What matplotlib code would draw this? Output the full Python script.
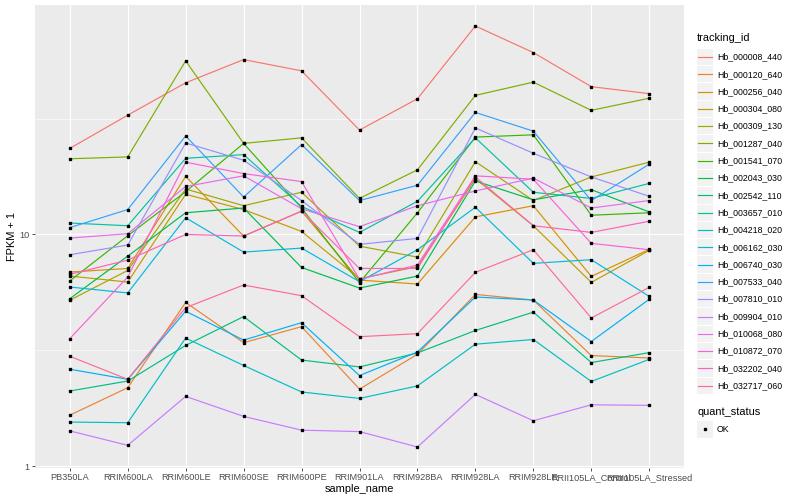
import matplotlib
matplotlib.use("Agg")
import matplotlib.pyplot as plt
from matplotlib.patches import Rectangle
from matplotlib.lines import Line2D

plt.rcParams['font.family'] = ['Liberation Sans', 'DejaVu Sans']

samples = ['PB350LA', 'RRIM600LA', 'RRIM600LE', 'RRIM600SE', 'RRIM600PE', 'RRIM901LA',
           'RRIM928BA', 'RRIM928LA', 'RRIM928LE', 'RRII105LA_Control', 'RRII105LA_Stressed']

tracking_ids = ['Hb_000008_440', 'Hb_000120_640', 'Hb_000256_040', 'Hb_000304_080',
                'Hb_000309_130', 'Hb_001287_040', 'Hb_001541_070', 'Hb_002043_030',
                'Hb_002542_110', 'Hb_003657_010', 'Hb_004218_020', 'Hb_006162_030',
                'Hb_006740_030', 'Hb_007533_040', 'Hb_007810_010', 'Hb_009904_010',
                'Hb_010068_080', 'Hb_010872_070', 'Hb_032202_040', 'Hb_032717_060']

# ggplot default hue palette for 20 groups
colors = ['#F8766D', '#EA8331', '#D89000', '#C09B00', '#A3A500', '#7CAE00', '#39B600',
          '#00BB4E', '#00BF7D', '#00C1A3', '#00BFC4', '#00BAE0', '#00B0F6', '#35A2FF',
          '#9590FF', '#C77CFF', '#E76BF3', '#FA62DB', '#FF62BC', '#FF6C91']

# FPKM + 1, one list per tracking_id (same order as samples)
hb_000008_440 = [23.5, 32.7, 45.1, 56.8, 50.8, 28.2, 38.5, 79.3, 60.9, 43.4, 40.5]
hb_000120_640 = [1.66, 2.18, 5.09, 3.41, 4.00, 2.15, 3.04, 5.51, 5.21, 3.00, 2.93]
hb_000256_040 = [6.88, 7.13, 17.8, 9.84, 12.6, 6.35, 6.11, 11.9, 13.3, 6.59, 8.62]
hb_000304_080 = [6.61, 6.23, 14.9, 12.8, 10.3, 6.44, 7.26, 17.4, 10.9, 6.21, 8.53]
hb_000309_130 = [5.20, 6.99, 15.7, 13.3, 15.2, 8.90, 7.98, 20.6, 14.0, 17.7, 20.5]
hb_001287_040 = [21.2, 21.6, 56.1, 24.7, 26.1, 14.3, 19.0, 39.8, 45.4, 34.3, 38.7]
hb_001541_070 = [6.30, 9.87, 15.3, 24.7, 13.0, 6.19, 12.4, 26.3, 26.9, 12.1, 12.4]
hb_002043_030 = [5.28, 8.06, 12.4, 13.0, 7.20, 5.87, 6.61, 17.0, 14.1, 15.6, 12.5]
hb_002542_110 = [2.11, 2.33, 3.32, 4.42, 2.87, 2.68, 3.08, 3.85, 4.62, 2.80, 3.09]
hb_003657_010 = [11.2, 10.9, 21.3, 22.1, 13.2, 10.2, 13.9, 26.1, 15.2, 14.3, 16.6]
hb_004218_020 = [1.55, 1.54, 3.57, 2.72, 2.09, 1.96, 2.22, 3.36, 3.52, 2.32, 2.89]
hb_006162_030 = [5.93, 5.59, 11.8, 8.39, 8.73, 6.25, 8.59, 13.1, 7.50, 7.78, 5.40]
hb_006740_030 = [2.62, 2.37, 4.66, 3.50, 4.16, 2.46, 3.11, 5.37, 5.21, 3.45, 5.25]
hb_007533_040 = [10.7, 12.8, 26.6, 14.5, 24.4, 14.0, 16.3, 33.6, 27.9, 14.0, 20.1]
hb_007810_010 = [8.17, 9.00, 24.8, 20.9, 14.0, 9.06, 9.61, 28.8, 22.4, 17.7, 14.6]
hb_009904_010 = [1.42, 1.23, 2.00, 1.64, 1.43, 1.41, 1.21, 2.04, 1.57, 1.84, 1.83]
hb_010068_080 = [9.64, 10.07, 16.1, 17.9, 12.9, 10.8, 13.3, 15.4, 17.5, 13.0, 14.0]
hb_010872_070 = [3.55, 6.55, 20.5, 18.3, 16.9, 6.40, 7.38, 17.9, 17.3, 9.15, 8.59]
hb_032202_040 = [6.72, 7.75, 10.0, 9.84, 12.6, 7.13, 7.13, 17.7, 10.9, 10.2, 11.4]
hb_032717_060 = [2.98, 2.37, 4.83, 6.05, 5.44, 3.62, 3.73, 6.86, 8.59, 4.36, 5.91]

values = [hb_000008_440, hb_000120_640, hb_000256_040, hb_000304_080, hb_000309_130,
          hb_001287_040, hb_001541_070, hb_002043_030, hb_002542_110, hb_003657_010,
          hb_004218_020, hb_006162_030, hb_006740_030, hb_007533_040, hb_007810_010,
          hb_009904_010, hb_010068_080, hb_010872_070, hb_032202_040, hb_032717_060]

W, H = 800, 500
fig = plt.figure(figsize=(8, 5), dpi=100)

def fx(px):
    return px / W

def fy(py):
    return 1 - py / H

# panel
left, right, top, bottom = 35, 684, 5, 468
ax = fig.add_axes([fx(left), fy(bottom), fx(right - left), (bottom - top) / H])
ax.set_facecolor('#EBEBEB')
for s in ax.spines.values():
    s.set_visible(False)

x = list(range(len(samples)))
for vals, c in zip(values, colors):
    ax.plot(x, vals, color=c, lw=0.85, zorder=3)
for vals in values:
    ax.plot(x, vals, ls='none', marker='s', ms=1.9, color='black', zorder=4)

ax.set_yscale('log')
ax.set_ylim(0.982, 97.7)
ax.set_xlim(-0.6, len(samples) - 0.4)
ax.set_yticks([1, 10])
ax.set_yticklabels(['1', '10'])
ax.yaxis.set_minor_locator(matplotlib.ticker.FixedLocator([10 ** 0.5, 10 ** 1.5]))
ax.yaxis.set_minor_formatter(matplotlib.ticker.NullFormatter())
ax.set_xticks(x)
ax.set_xticklabels(samples)

ax.grid(True, which='major', color='white', lw=0.8, zorder=1)
ax.grid(True, which='minor', axis='y', color='white', lw=0.4, zorder=1)
ax.set_axisbelow(True)
ax.tick_params(which='major', length=2.2, width=0.6, color='#333333',
               labelsize=6.6, labelcolor='#4D4D4D', pad=1.5)
ax.tick_params(which='minor', length=0)

ax.set_xlabel('sample_name', fontsize=7.9, labelpad=1)
ax.set_ylabel('FPKM + 1', fontsize=7.9, labelpad=2)

# legend: tracking_id
fig.text(fx(697), fy(38), 'tracking_id', fontsize=7.9, va='center', ha='left')
key_w, key_h = 16, 17.3
y0 = 57
for i, (name, c) in enumerate(zip(tracking_ids, colors)):
    yc = y0 + i * key_h
    fig.add_artist(Rectangle((fx(697), fy(yc + key_h / 2 - 0.5)), fx(key_w), (key_h - 1) / H,
                             transform=fig.transFigure, facecolor='#F2F2F2', edgecolor='none'))
    fig.add_artist(Line2D([fx(698), fx(712)], [fy(yc), fy(yc)], transform=fig.transFigure,
                          color=c, lw=0.85))
    fig.text(fx(717), fy(yc), name, fontsize=6.3, va='center', ha='left')

# legend: quant_status
fig.text(fx(697), fy(412), 'quant_status', fontsize=7.9, va='center', ha='left')
fig.add_artist(Rectangle((fx(697), fy(437.5)), fx(key_w), (key_h - 1) / H,
                         transform=fig.transFigure, facecolor='#F2F2F2', edgecolor='none'))
fig.add_artist(Line2D([fx(705)], [fy(429)], transform=fig.transFigure, ls='none',
                      marker='s', ms=1.9, color='black'))
fig.text(fx(717), fy(429), 'OK', fontsize=6.3, va='center', ha='left')

fig.savefig('out.png', dpi=100)
